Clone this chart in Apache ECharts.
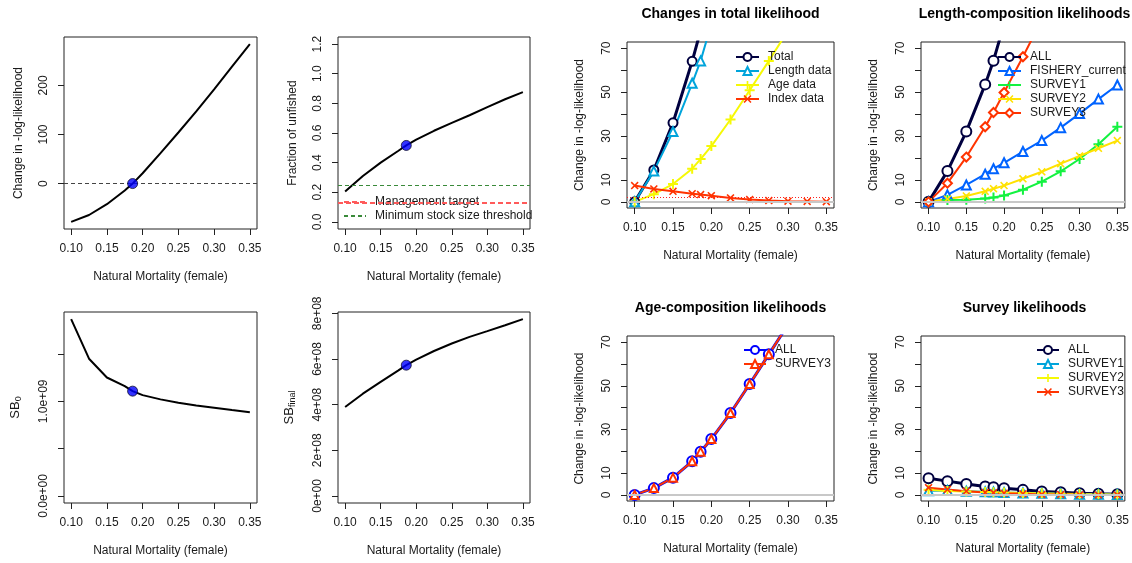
<!DOCTYPE html>
<html><head><meta charset="utf-8">
<script src="https://cdn.jsdelivr.net/npm/echarts@6/dist/echarts.min.js"></script>
<style>html,body{margin:0;padding:0;background:#fff}#c{width:1132px;height:563px}</style>
</head><body><div id="c"></div>
<script>
// ---------------- data ----------------
const M = [0.10, 0.125, 0.15, 0.175, 0.186, 0.20, 0.225, 0.25, 0.275, 0.30, 0.325, 0.35];
const mleIndex = 4;
const xTicks = [0.10, 0.15, 0.20, 0.25, 0.30, 0.35];

const deltaNLL = [-78, -64, -42, -14, 0, 21, 62, 104, 147, 192, 238, 284];
const fracUnfished = [0.205, 0.31, 0.40, 0.48, 0.516, 0.555, 0.615, 0.668, 0.72, 0.775, 0.828, 0.876];
const SB0 = [1.87e9, 1.451e9, 1.252e9, 1.16e9, 1.108e9, 1.066e9, 1.021e9, 0.985e9, 0.957e9, 0.933e9, 0.908e9, 0.885e9];
const SBfinal = [3.9e8, 4.48e8, 5.0e8, 5.5e8, 5.73e8, 5.97e8, 6.35e8, 6.68e8, 6.97e8, 7.22e8, 7.48e8, 7.75e8];
const mgmtTarget = 0.125;
const mssThreshold = 0.25;
const chiThreshold = 1.92;

const totalLike  = [0, 14.5, 36, 64, 78, 99, 140, 182, 225, 270, 316, 362];
const lengthLike = [0, 14, 32, 54, 64.2, 81, 104, 134, 165, 199, 234, 271];
const ageLike    = [0, 3.5, 8.1, 15.1, 19.5, 25.4, 37.5, 50.8, 64.2, 78, 92, 107];
const indexLike  = [7.4, 5.9, 4.8, 3.7, 3.3, 2.8, 1.8, 1.05, 0.6, 0.3, 0.2, 0.1];

const lenAll      = [0, 14, 32, 53.5, 64.3, 81, 104, 134, 165, 199, 234, 271];
const lenFishery  = [0, 3.2, 7.7, 12.6, 15.1, 17.8, 22.9, 27.9, 33.8, 40.2, 46.8, 53.2];
const lenSurvey1  = [0, 0.9, 1.0, 1.5, 2.0, 2.9, 5.5, 9.2, 13.9, 19.5, 26.2, 34.2];
const lenSurvey2  = [0, 1.3, 2.7, 4.8, 6.0, 7.4, 10.5, 13.7, 17.4, 20.9, 24.4, 27.9];
const lenSurvey3  = [0, 8.5, 20.4, 34.2, 40.7, 49.8, 66.1, 83, 100, 118, 136, 155];

const ageAll      = [0, 3.1, 7.9, 15.4, 19.8, 25.6, 37.5, 50.8, 64.4, 78, 92, 107];
const ageSurvey3  = [0, 3.1, 7.9, 15.4, 19.8, 25.6, 37.5, 50.8, 64.4, 78, 92, 107];

const survAll     = [7.6, 6.3, 5.0, 3.8, 3.5, 3.0, 2.3, 1.6, 1.2, 0.8, 0.55, 0.35];
const survSurvey1 = [1.9, 2.0, 1.7, 1.4, 1.3, 1.1, 0.9, 0.7, 0.5, 0.35, 0.25, 0.15];
const survSurvey2 = [2.3, 1.8, 1.6, 1.3, 1.2, 1.1, 0.9, 0.7, 0.55, 0.4, 0.3, 0.2];
const survSurvey3 = [3.3, 2.5, 1.7, 1.1, 1.0, 0.8, 0.5, 0.2, 0.15, 0.05, 0.0, 0.0];

const yTicksNLL = [0, 100, 200];
const yTicksFrac = [0, 0.2, 0.4, 0.6, 0.8, 1.0, 1.2];
const yTicksSB0 = [0, 5e8, 1e9, 1.5e9];
const yLabelsSB0 = [0, 1e9];
const yTicksSBf = [0, 2e8, 4e8, 6e8, 8e8];
const yTicksLike = [0, 10, 20, 30, 40, 50, 60, 70];
const yLabelsLike = [0, 10, 30, 50, 70];

// ---------------- styling ----------------
const FONT = '"Liberation Sans", Arial, Helvetica, sans-serif';
const TXT = '#1a1a1a';
const C = {
  navy: '#00003F', sky: '#00A4DB', yellow: '#F6F905', orange: '#FF3300',
  blue5: '#0063FF', green5: '#13F240', gold5: '#FFE201', blue: '#0000FF'
};
const PLUS = 'path://M4,0H6V4H10V6H6V10H4V6H0V4H4Z';
const CROSS = 'path://M1.4,0L5,3.6L8.6,0L10,1.4L6.4,5L10,8.6L8.6,10L5,6.4L1.4,10L0,8.6L3.6,5L0,1.4Z';

const boxes = [
  {left: 64,  top: 37,  width: 193, height: 192},
  {left: 338, top: 37,  width: 192, height: 192},
  {left: 627, top: 42,  width: 207, height: 166},
  {left: 921, top: 42,  width: 207, height: 166},
  {left: 64,  top: 312, width: 193, height: 191},
  {left: 338, top: 312, width: 192, height: 191},
  {left: 627, top: 336, width: 207, height: 165},
  {left: 921, top: 336, width: 207, height: 165}
];
const yRange = [
  [-92.5, 298.5], [-0.048, 1.248], [-2.8, 72.8], [-2.8, 72.8],
  [-0.0748e9, 1.9448e9], [-0.031e9, 0.806e9], [-2.8, 72.8], [-2.8, 72.8]
];
const yNameGap = [39, 39, 41, 41, 41, 41, 41, 41];

function expFmt(d) {
  return v => v.toExponential(d).replace(/e([+-])(\d)$/, 'e$10$2');
}
const likeName = 'Change in -log-likelihood';
const yInfo = [
  {ticks: yTicksNLL, labels: yTicksNLL, fmt: v => String(v), name: likeName},
  {ticks: yTicksFrac, labels: yTicksFrac, fmt: v => v.toFixed(1), name: 'Fraction of unfished'},
  {ticks: yTicksLike, labels: yLabelsLike, fmt: v => String(v), name: likeName},
  {ticks: yTicksLike, labels: yLabelsLike, fmt: v => String(v), name: likeName},
  {ticks: yTicksSB0, labels: yLabelsSB0, fmt: expFmt(1), name: '{m|SB}{s|0}'},
  {ticks: yTicksSBf, labels: yTicksSBf, fmt: expFmt(0), name: '{m|SB}{s|final}'},
  {ticks: yTicksLike, labels: yLabelsLike, fmt: v => String(v), name: likeName},
  {ticks: yTicksLike, labels: yLabelsLike, fmt: v => String(v), name: likeName}
];

const grids = boxes.map(b => Object.assign({show: true, borderColor: '#222', borderWidth: 1,
  backgroundColor: 'transparent', containLabel: false}, b));

const xAxes = boxes.map((b, i) => ({
  type: 'value', gridIndex: i, min: 0.09, max: 0.36, position: 'bottom',
  splitLine: {show: false}, axisLine: {show: false, onZero: false},
  axisTick: {show: true, length: 6, lineStyle: {color: '#222'}, customValues: xTicks},
  axisLabel: {customValues: xTicks, formatter: v => v.toFixed(2), margin: 14,
    color: TXT, fontSize: 12, fontFamily: FONT},
  name: 'Natural Mortality (female)', nameLocation: 'middle', nameGap: 42,
  nameTextStyle: {color: TXT, fontSize: 12, fontFamily: FONT}
}));

const yAxes = boxes.map((b, i) => ({
  type: 'value', gridIndex: i, min: yRange[i][0], max: yRange[i][1], position: 'left',
  splitLine: {show: false}, axisLine: {show: false, onZero: false},
  axisTick: {show: true, length: 6, lineStyle: {color: '#222'}, customValues: yInfo[i].ticks},
  axisLabel: {customValues: yInfo[i].labels, formatter: yInfo[i].fmt, rotate: 90, margin: 14,
    color: TXT, fontSize: 12, fontFamily: FONT},
  name: yInfo[i].name, nameLocation: 'middle', nameGap: yNameGap[i],
  nameTextStyle: {color: TXT, fontSize: 12, fontFamily: FONT,
    rich: {m: {fontSize: 13, fontFamily: FONT, color: TXT},
           s: {fontSize: 9, fontFamily: FONT, color: TXT, padding: [7, 0, 0, 0]}}}
}));

function pts(ys) { return M.map((m, i) => [m, ys[i]]); }

function curve(gi, ys, markLine) {
  const s = {type: 'line', xAxisIndex: gi, yAxisIndex: gi, data: pts(ys), symbol: 'none',
    lineStyle: {color: '#000', width: 2}, silent: true, z: 3};
  if (markLine) s.markLine = markLine;
  return s;
}
function mleDot(gi, ys) {
  return {type: 'scatter', xAxisIndex: gi, yAxisIndex: gi, data: [[M[mleIndex], ys[mleIndex]]],
    symbolSize: 10, itemStyle: {color: '#0000FF', borderColor: '#101030', borderWidth: 1}, silent: true, z: 5};
}
function hline(y, color, width, type) {
  return {silent: true, symbol: 'none', label: {show: false},
    lineStyle: {color: color, width: width, type: type}, data: [{yAxis: y}]};
}
function likeLine(name, gi, ys, color, sym, lw, size, z) {
  const filled = sym.indexOf('path://') === 0;
  return {type: 'line', name: name, xAxisIndex: gi, yAxisIndex: gi, data: pts(ys),
    color: color, symbol: sym, symbolSize: size, showAllSymbol: true,
    lineStyle: {color: color, width: lw},
    itemStyle: filled ? {color: color, borderWidth: 0} : {color: color, borderColor: color, borderWidth: 2},
    silent: true, z: z || 3};
}
function refSeries(gi, marks) {
  return {type: 'line', xAxisIndex: gi, yAxisIndex: gi, data: [], symbol: 'none', silent: true, z: 1,
    markLine: {silent: true, symbol: 'none', label: {show: false}, data: marks}};
}
function mark(y, color, width, type) {
  return {yAxis: y, lineStyle: {color: color, width: width, type: type}};
}

const series = [
  // panel 1
  curve(0, deltaNLL, hline(0, '#444', 1, [4, 3])),
  mleDot(0, deltaNLL),
  // panel 2
  {type: 'line', name: 'Management target', xAxisIndex: 1, yAxisIndex: 1, data: [], symbol: 'emptyCircle',
   color: '#FF5A5A', lineStyle: {color: '#FF5A5A', width: 2, type: [5, 3]},
   itemStyle: {color: 'rgba(0,0,0,0)', borderWidth: 0, opacity: 0}, silent: true, z: 2,
   markLine: hline(mgmtTarget, '#FF5A5A', 2, [5, 3])},
  {type: 'line', name: 'Minimum stock size threshold', xAxisIndex: 1, yAxisIndex: 1, data: [], symbol: 'emptyCircle',
   color: '#3A8A3A', lineStyle: {color: '#3A8A3A', width: 1, type: [4, 3]},
   itemStyle: {color: 'rgba(0,0,0,0)', borderWidth: 0, opacity: 0}, silent: true, z: 2,
   markLine: hline(mssThreshold, '#3A8A3A', 1, [4, 3])},
  curve(1, fracUnfished),
  mleDot(1, fracUnfished),
  // panel 3
  refSeries(2, [mark(0, '#c8c8c8', 2, 'solid'), mark(chiThreshold, '#FF2020', 1, [1, 2])]),
  likeLine('Total', 2, totalLike, C.navy, 'emptyCircle', 3, 9),
  likeLine('Length data', 2, lengthLike, C.sky, 'emptyTriangle', 2, 9),
  likeLine('Age data', 2, ageLike, C.yellow, PLUS, 2, 10),
  likeLine('Index data', 2, indexLike, C.orange, CROSS, 2, 8),
  // panel 4
  refSeries(3, [mark(0, '#c8c8c8', 2, 'solid')]),
  likeLine('ALL#4', 3, lenAll, C.navy, 'emptyCircle', 3, 10),
  likeLine('FISHERY_current', 3, lenFishery, C.blue5, 'emptyTriangle', 2, 9),
  likeLine('SURVEY1#4', 3, lenSurvey1, C.green5, PLUS, 2, 10),
  likeLine('SURVEY2#4', 3, lenSurvey2, C.gold5, CROSS, 2, 8),
  likeLine('SURVEY3#4', 3, lenSurvey3, C.orange, 'emptyDiamond', 2, 9),
  // panel 5
  curve(4, SB0),
  mleDot(4, SB0),
  // panel 6
  curve(5, SBfinal),
  mleDot(5, SBfinal),
  // panel 7
  refSeries(6, [mark(0, '#c8c8c8', 2, 'solid')]),
  likeLine('ALL#7', 6, ageAll, C.blue, 'emptyCircle', 3, 10),
  likeLine('SURVEY3#7', 6, ageSurvey3, C.orange, 'emptyTriangle', 2, 8),
  // panel 8
  refSeries(7, [mark(0, '#c8c8c8', 2, 'solid')]),
  likeLine('ALL#8', 7, survAll, C.navy, 'emptyCircle', 3, 10),
  likeLine('SURVEY1#8', 7, survSurvey1, C.sky, 'emptyTriangle', 2, 9),
  likeLine('SURVEY2#8', 7, survSurvey2, C.yellow, PLUS, 2, 10),
  likeLine('SURVEY3#8', 7, survSurvey3, C.orange, CROSS, 2, 8)
];

function legend(names, left, top, w) {
  return {show: true, orient: 'vertical', left: left, top: top, padding: 0, itemGap: 0,
    itemWidth: w, itemHeight: 10, selectedMode: false, data: names,
    formatter: n => n.split('#')[0],
    textStyle: {color: TXT, fontSize: 12, fontFamily: FONT, lineHeight: 14, padding: [0, 0, 0, 4]}};
}
const legends = [
  legend(['Management target', 'Minimum stock size threshold'], 343, 195, 22),
  legend(['Total', 'Length data', 'Age data', 'Index data'], 735, 50, 23),
  legend(['ALL#4', 'FISHERY_current', 'SURVEY1#4', 'SURVEY2#4', 'SURVEY3#4'], 997, 50, 23),
  legend(['ALL#7', 'SURVEY3#7'], 743, 343, 22),
  legend(['ALL#8', 'SURVEY1#8', 'SURVEY2#8', 'SURVEY3#8'], 1036, 343, 22)
];

function title(text, b, y) {
  return {type: 'text', x: b.left + b.width / 2, y: y,
    style: {text: text, align: 'center', verticalAlign: 'middle', textAlign: 'center', textVerticalAlign: 'middle',
      fill: '#000', font: 'bold 14px ' + FONT}};
}

const chart = echarts.init(document.getElementById('c'), null, {renderer: 'canvas'});
chart.setOption({
  animation: false,
  backgroundColor: '#fff',
  grid: grids,
  xAxis: xAxes,
  yAxis: yAxes,
  legend: legends,
  series: series,
  graphic: [
    title('Changes in total likelihood', boxes[2], 14),
    title('Length-composition likelihoods', boxes[3], 14),
    title('Age-composition likelihoods', boxes[6], 308),
    title('Survey likelihoods', boxes[7], 308)
  ]
});
</script>
</body></html>
